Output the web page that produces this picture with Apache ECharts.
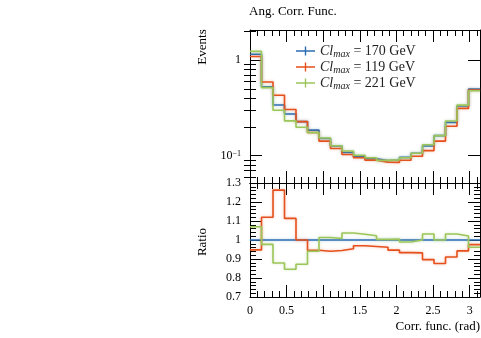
<!DOCTYPE html>
<html>
<head>
<meta charset="utf-8">
<script src="https://cdn.jsdelivr.net/npm/echarts@6/dist/echarts.min.js"></script>
<style>
  html, body { margin: 0; padding: 0; background: #fff; }
  #chart { width: 481px; height: 338px; }
</style>
</head>
<body>
<div id="chart"></div>
<script>
// 20 equal bins over [0, pi]
const xMax = Math.PI;
const nBins = 20;

const names = ['Cl_max = 170 GeV', 'Cl_max = 119 GeV', 'Cl_max = 221 GeV'];
const massLabels = ['170', '119', '221'];
const colors = ['#2b6db3', '#e5501c', '#9cc65b'];
const halos = ['rgba(43,109,179,0.35)', 'rgba(229,80,28,0.35)', 'rgba(156,198,91,0.4)'];

// bin contents (170 GeV is the reference)
const val170 = [1.15, 0.526, 0.339, 0.273, 0.227, 0.185, 0.151, 0.126, 0.108, 0.098, 0.093, 0.089, 0.090, 0.096, 0.106, 0.126, 0.162, 0.223, 0.331, 0.496];
const val119 = [1.09, 0.589, 0.428, 0.304, 0.227, 0.175, 0.142, 0.119, 0.103, 0.095, 0.0898, 0.0856, 0.0852, 0.0896, 0.0988, 0.113, 0.142, 0.203, 0.312, 0.484];
const val221 = [1.23, 0.514, 0.298, 0.231, 0.198, 0.174, 0.153, 0.127, 0.112, 0.101, 0.0951, 0.0893, 0.0904, 0.095, 0.106, 0.130, 0.162, 0.230, 0.338, 0.477];

// tick values
const xMajor = [0, 0.5, 1, 1.5, 2, 2.5, 3];
const xMinor = [0.1, 0.2, 0.3, 0.4, 0.6, 0.7, 0.8, 0.9, 1.1, 1.2, 1.3, 1.4, 1.6, 1.7, 1.8, 1.9, 2.1, 2.2, 2.3, 2.4, 2.6, 2.7, 2.8, 2.9, 3.1];
const logMajor = [0.1, 1];
const logMinor = [0.06, 0.07, 0.08, 0.09, 0.2, 0.3, 0.4, 0.5, 0.6, 0.7, 0.8, 0.9, 2];

const font = '"Liberation Serif", "DejaVu Serif", serif';

// histogram -> step points (left edges + closing right edge)
function toSteps(vals) {
    const pts = vals.map((v, i) => [i * xMax / nBins, v]);
    pts.push([xMax, vals[vals.length - 1]]);
    return pts;
}
function ratioOf(vals) {
    return vals.map((v, i) => v / val170[i]);
}

// x axis: one axis for major ticks and one for minor ticks
function xAxes(gridIndex, position, labels) {
    const base = {
        type: 'value', gridIndex: gridIndex, position: position,
        min: 0, max: xMax,
        splitLine: { show: false },
        axisLine: { show: true, onZero: false, lineStyle: { color: '#000', width: 1 } },
    };
    return [
        Object.assign({}, base, {
            axisTick: { show: true, inside: true, length: 12, customValues: xMajor, lineStyle: { color: '#000' } },
            axisLabel: {
                show: labels, customValues: xMajor, margin: 8,
                fontFamily: font, fontSize: 12, color: '#000'
            },
        }),
        Object.assign({}, base, {
            axisLine: { show: false },
            axisTick: { show: true, inside: true, length: 6, customValues: xMinor, lineStyle: { color: '#000' } },
            axisLabel: { show: false },
        }),
    ];
}

function logAxes(position, labels) {
    const base = {
        type: 'log', logBase: 10, gridIndex: 0, position: position,
        min: 0.0518, max: 2.06,
        splitLine: { show: false },
        axisLine: { show: true, onZero: false, lineStyle: { color: '#000', width: 1 } },
    };
    return [
        Object.assign({}, base, {
            axisTick: { show: true, inside: true, length: 12, customValues: logMajor, lineStyle: { color: '#000' } },
            axisLabel: {
                show: labels, customValues: logMajor, margin: 9,
                fontFamily: font, fontSize: 12, color: '#000',
                formatter: v => (v >= 0.5 ? '1' : '10{sup|\u22121}'),
                rich: { sup: { fontFamily: font, fontSize: 8, verticalAlign: 'top', lineHeight: 8, padding: [0, 0, 6, 0] } }
            },
        }),
        Object.assign({}, base, {
            axisLine: { show: false },
            axisTick: { show: true, inside: true, length: 6, customValues: logMinor, lineStyle: { color: '#000' } },
            axisLabel: { show: false },
        }),
    ];
}

function ratioAxis(position, labels) {
    return {
        type: 'value', gridIndex: 1, position: position,
        min: 0.7, max: 1.3, interval: 0.1,
        splitLine: { show: false },
        axisLine: { show: true, onZero: false, lineStyle: { color: '#000', width: 1 } },
        axisTick: { show: true, inside: true, length: 12, lineStyle: { color: '#000' } },
        minorTick: { show: true, splitNumber: 5, length: 6, lineStyle: { color: '#000' } },
        axisLabel: { show: labels, margin: 9, fontFamily: font, fontSize: 12, color: '#000' },
    };
}

const chart = echarts.init(document.getElementById('chart'));

function histLine(i, data, xi, yi) {
    return {
        name: names[i], type: 'line', step: 'end', xAxisIndex: xi, yAxisIndex: yi,
        data: data, symbol: 'none', color: colors[i],
        lineStyle: { width: 1.6, color: colors[i], shadowColor: halos[i], shadowBlur: 3 },
    };
}

const series = [];
const tops = [val170, val119, val221];
tops.forEach((vals, i) => series.push(histLine(i, toSteps(vals), 0, 0)));
tops.forEach((vals, i) => series.push(histLine(i, toSteps(ratioOf(vals)), 4, 4)));

const plusIcon = 'path://M0,3.8H19V5.2H0Z M8.8,0H10.2V9H8.8Z';

chart.setOption({
    animation: false,
    backgroundColor: '#fff',
    title: {
        text: 'Ang. Corr. Func.', left: 249, top: 5, padding: 0,
        textStyle: { fontFamily: font, fontSize: 13, fontWeight: 'normal', color: '#000' }
    },
    grid: [
        { left: 250, top: 30, width: 230, height: 153 },
        { left: 250, top: 183, width: 230, height: 114 },
    ],
    legend: {
        orient: 'vertical', left: 296, top: 44, padding: 0,
        itemWidth: 19, itemHeight: 9, itemGap: 1,
        data: names.map(n => ({ name: n, icon: plusIcon })),
        formatter: n => '{it|Cl}{sub|max}{rm| = ' + massLabels[names.indexOf(n)] + ' GeV}',
        textStyle: {
            color: '#222',
            rich: {
                it: { fontFamily: font, fontStyle: 'italic', fontSize: 14, lineHeight: 16, color: '#222' },
                sub: { fontFamily: font, fontStyle: 'italic', fontSize: 10, lineHeight: 9, verticalAlign: 'bottom', color: '#222' },
                rm: { fontFamily: font, fontSize: 14, lineHeight: 16, color: '#222' },
            }
        }
    },
    xAxis: [].concat(
        xAxes(0, 'bottom', false), xAxes(0, 'top', false),
        xAxes(1, 'bottom', true), xAxes(1, 'top', false)
    ),
    yAxis: [].concat(
        logAxes('left', true), logAxes('right', false),
        [ratioAxis('left', true), ratioAxis('right', false)]
    ),
    graphic: [
        { type: 'text', x: 203, y: 47, rotation: Math.PI / 2,
          style: { text: 'Events', font: '13px ' + font, fill: '#000', align: 'center', verticalAlign: 'middle' } },
        { type: 'text', x: 203, y: 242, rotation: Math.PI / 2,
          style: { text: 'Ratio', font: '13px ' + font, fill: '#000', align: 'center', verticalAlign: 'middle' } },
        { type: 'text', x: 480, y: 327,
          style: { text: 'Corr. func. (rad)', font: '13px ' + font, fill: '#000', align: 'right', verticalAlign: 'middle' } },
    ],
    series: series,
});
</script>
</body>
</html>
